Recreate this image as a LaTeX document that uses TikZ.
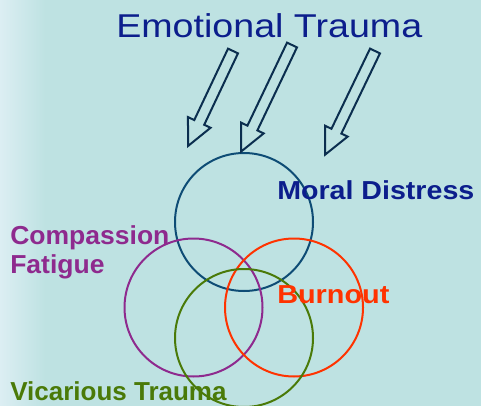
\documentclass[tikz,border=0pt]{standalone}
\usepackage{fontspec}
\setmainfont{Liberation Sans}
\usepackage{xcolor}
\usetikzlibrary{positioning}

\definecolor{bgteal}{HTML}{BEE2E2}
\definecolor{bglight}{HTML}{DCEEF3}
\definecolor{titleblue}{HTML}{0C1E8C}
\definecolor{arrownavy}{HTML}{0B2E4F}
\definecolor{ringblue}{HTML}{0E4C75}
\definecolor{ringpurple}{HTML}{8E2A8E}
\definecolor{ringred}{HTML}{FF3300}
\definecolor{ringgreen}{HTML}{4A7A08}

% hollow block arrow: tail, angle, length
\newcommand{\hollowarrow}[3]{%
  \draw[blockarrow, shift={#1}, rotate=#2] (0,-5.5) -- (#3-26,-5.5) -- (#3-26,-12.5)
    -- (#3,0) -- (#3-26,12.5) -- (#3-26,5.5) -- (0,5.5) -- cycle;}

\begin{document}
\begin{tikzpicture}[x=0.75pt,y=-0.75pt,
  ring/.style={circle, draw, line width=1.5pt, minimum size=103.5pt, inner sep=0pt},
  tagtext/.style={anchor=base west, inner sep=0pt, font=\fontsize{19.5}{23}\selectfont\bfseries},
  blockarrow/.style={draw=arrownavy, line width=1.5pt, line join=miter}]

  % background
  \fill[bgteal] (0,0) rectangle (481,406);
  \shade[left color=bglight, right color=bgteal] (0,0) rectangle (45,406);
  \useasboundingbox (0,0) rectangle (481,406);

  \node[anchor=base west, inner sep=0pt, text=titleblue, font=\fontsize{24.75}{30}\selectfont]
    (emotional) at (116,38) {\scalebox{1.14}[1]{Emotional Trauma}};

  \node[ring, draw=ringblue] (moralring) at (244,222) {};
  \node[ring, draw=ringpurple] (compring) at (193.5,307.5) {};
  \node[ring, draw=ringred] (burnring) at (294,307.5) {};
  \node[ring, draw=ringgreen] (vicring) at (244,338) {};

  \coordinate (tailA) at (233,51);
  \coordinate (tailB) at (292,45);
  \coordinate (tailC) at (375,51);
  \hollowarrow{(tailA)}{-115.3}{105}
  \hollowarrow{(tailB)}{-115.5}{118}
  \hollowarrow{(tailC)}{-115.7}{115}

  \node[tagtext, text=titleblue] (moral) at (277,199) {\scalebox{1.1}[1]{Moral Distress}};
  \node[tagtext, text=ringpurple] (compassion) at (10,244) {\scalebox{1.02}[1]{Compassion}};
  \node[tagtext, text=ringpurple, below=21.75pt of compassion.base west, anchor=base west]
    (fatigue) {\scalebox{1.02}[1]{Fatigue}};
  \node[tagtext, text=ringred] (burnout) at (277,303) {\scalebox{1.11}[1]{Burnout}};
  \node[tagtext, text=ringgreen] (vicarious) at (10,400) {Vicarious Trauma};

\end{tikzpicture}
\end{document}
